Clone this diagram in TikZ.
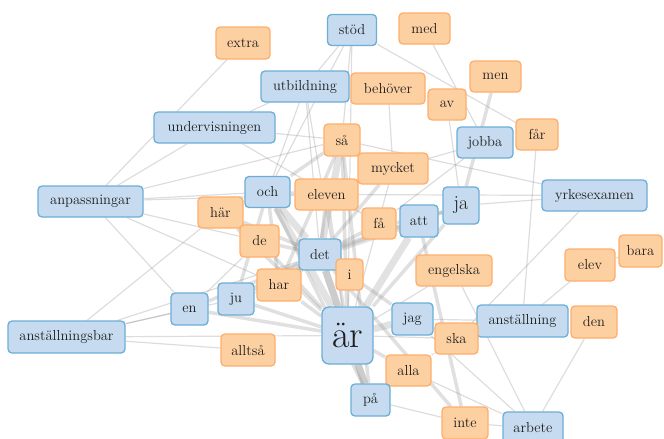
\documentclass[tikz,border=0pt]{standalone}
\usetikzlibrary{backgrounds}

\definecolor{bluefill}{HTML}{C6DBEF}
\definecolor{blueline}{HTML}{6BAED6}
\definecolor{orangefill}{HTML}{FDD0A2}
\definecolor{orangeline}{HTML}{FDAE6B}
\definecolor{wordtext}{HTML}{1E1E1E}
\definecolor{linkgray}{HTML}{8F8F8F}

\begin{document}
\begin{tikzpicture}[x=1pt, y=-1pt,
    word/.style={rectangle, rounded corners=4pt, line width=1.3pt, inner sep=0pt, minimum height=31pt, text=wordtext, font=\fontsize{14.5}{16}\selectfont},
    blueword/.style={word, draw=blueline, fill=bluefill},
    orangeword/.style={word, draw=orangeline, fill=orangefill},
    thin link/.style={draw=linkgray, line width=1.2pt, opacity=0.3},
    mid link/.style={draw=linkgray, line width=3.5pt, opacity=0.28},
    thick link/.style={draw=linkgray, line width=7pt, opacity=0.26}
]
\useasboundingbox (0,0) rectangle (664,439);

% top row
\node[blueword, minimum width=49pt] (stod) at (352,30) {stöd};
\node[orangeword, minimum width=51pt] (med) at (424.5,28.5) {med};
\node[orangeword, minimum width=54pt, minimum height=32pt] (extra) at (243,43) {extra};
\node[blueword, minimum width=88pt] (utbildning) at (305,86.5) {utbildning};
\node[orangeword, minimum width=74pt] (behover) at (388,88.5) {behöver};
\node[orangeword, minimum width=51pt] (men) at (495.5,76.5) {men};
\node[orangeword, minimum width=38pt] (av) at (447,104.5) {av};
\node[blueword, minimum width=121pt] (undervisningen) at (214.5,127.5) {undervisningen};
\node[orangeword, minimum width=36pt, minimum height=32pt] (sa) at (342,140) {så};
\node[orangeword, minimum width=42pt] (faar) at (537,134.5) {får};
\node[blueword, minimum width=56pt] (jobba) at (485,142.5) {jobba};
\node[orangeword, minimum width=70pt] (mycket) at (393,168.5) {mycket};

% middle
\node[blueword, minimum width=45pt] (och) at (267.5,192) {och};
\node[orangeword, minimum width=63pt] (eleven) at (326.5,194.5) {eleven};
\node[blueword, minimum width=105pt] (anpassningar) at (90.5,201.5) {anpassningar};
\node[blueword, minimum width=105pt] (yrkesexamen) at (594.5,195.5) {yrkesexamen};
\node[blueword, minimum width=36pt, minimum height=37pt, font=\fontsize{20}{22}\selectfont] (ja) at (461,205.5) {ja};
\node[orangeword, minimum width=45pt] (haer) at (220.5,212.5) {här};
\node[orangeword, minimum width=34pt] (fa) at (379,223.5) {få};
\node[blueword, minimum width=38pt, minimum height=32pt] (att) at (419,221) {att};
\node[orangeword, minimum width=39pt, minimum height=32pt] (de) at (259.5,241) {de};
\node[blueword, minimum width=42pt] (det) at (320,254.5) {det};
\node[orangeword, minimum width=27pt] (i) at (349.5,274.5) {i};
\node[orangeword, minimum width=76pt] (engelska) at (454,270.5) {engelska};
\node[orangeword, minimum width=50pt, minimum height=32pt] (elev) at (590,265) {elev};
\node[orangeword, minimum width=43pt, minimum height=32pt] (bara) at (640.5,251) {bara};
\node[orangeword, minimum width=44pt, minimum height=32pt] (har) at (279,285) {har};

% bottom
\node[blueword, minimum width=36pt, minimum height=32pt] (ju) at (236,299) {ju};
\node[blueword, minimum width=37pt, minimum height=32pt] (en) at (189.5,309) {en};
\node[blueword, minimum width=41pt, minimum height=32pt] (jag) at (412.5,319) {jag};
\node[blueword, minimum width=91pt, minimum height=32pt] (anstallning) at (522.5,321) {anställning};
\node[orangeword, minimum width=46pt, minimum height=32pt] (den) at (594,322) {den};
\node[blueword, minimum width=117pt, minimum height=32pt] (anstallningsbar) at (66.5,337) {anställningsbar};
\node[orangeword, minimum width=43pt] (ska) at (456.5,338.5) {ska};
\node[blueword, minimum width=51pt, minimum height=57pt, rounded corners=7pt, font=\fontsize{38}{40}\selectfont] (ar) at (347.5,335.5) {är};
\node[orangeword, minimum width=54pt, minimum height=32pt] (alltsa) at (248,350) {alltså};
\node[orangeword, minimum width=45pt] (alla) at (408.5,370.5) {alla};
\node[blueword, minimum width=39pt, minimum height=32pt] (pa) at (370.5,400) {på};
\node[orangeword, minimum width=46pt, minimum height=32pt] (inte) at (465,423) {inte};
\node[blueword, minimum width=60pt, minimum height=32pt] (arbete) at (533,428) {arbete};

\begin{scope}[on background layer]
\foreach \a/\b in {extra/anpassningar, anpassningar/undervisningen, anpassningar/sa, anpassningar/och,
    anpassningar/eleven, anpassningar/de, anpassningar/har, anpassningar/en,
    anstallningsbar/haer, anstallningsbar/en, anstallningsbar/ju, anstallningsbar/det,
    anstallningsbar/ar, anstallningsbar/alltsa, undervisningen/fa, undervisningen/sa,
    undervisningen/utbildning, utbildning/stod, utbildning/behover, utbildning/och,
    utbildning/det, utbildning/ar, stod/sa, stod/och, stod/ar, stod/faar, med/jobba,
    behover/mycket, sa/yrkesexamen, faar/anstallning, jobba/mycket, jobba/fa,
    yrkesexamen/ja, yrkesexamen/eleven, yrkesexamen/ska, elev/bara, elev/anstallning,
    den/arbete, anstallning/jag, engelska/arbete, jag/arbete, alla/arbete, pa/inte,
    inte/arbete, ska/alla, ar/engelska, jag/ska, i/ar, mycket/ar, ar/ska, ju/har,
    en/de, av/ja}
    \draw[thin link] (\a) -- (\b);
\foreach \a/\b in {men/ja, ar/ja, ar/sa, ar/eleven, de/det, haer/det, en/det, en/ar,
    har/ar, fa/det, fa/att, ar/alla, ja/att, ja/det, mycket/det, och/eleven, det/jag,
    att/inte, det/inte, ju/ar, sa/och, i/det, och/ju, och/har, sa/har, eleven/det,
    de/ar, haer/ar, sa/pa, och/pa}
    \draw[mid link] (\a) -- (\b);
\foreach \a/\b in {ar/det, det/har, det/och, ar/och, ar/att, det/att, ar/jag, det/sa,
    ju/det, ar/pa, det/pa}
    \draw[thick link] (\a) -- (\b);
\end{scope}
\end{tikzpicture}
\end{document}
